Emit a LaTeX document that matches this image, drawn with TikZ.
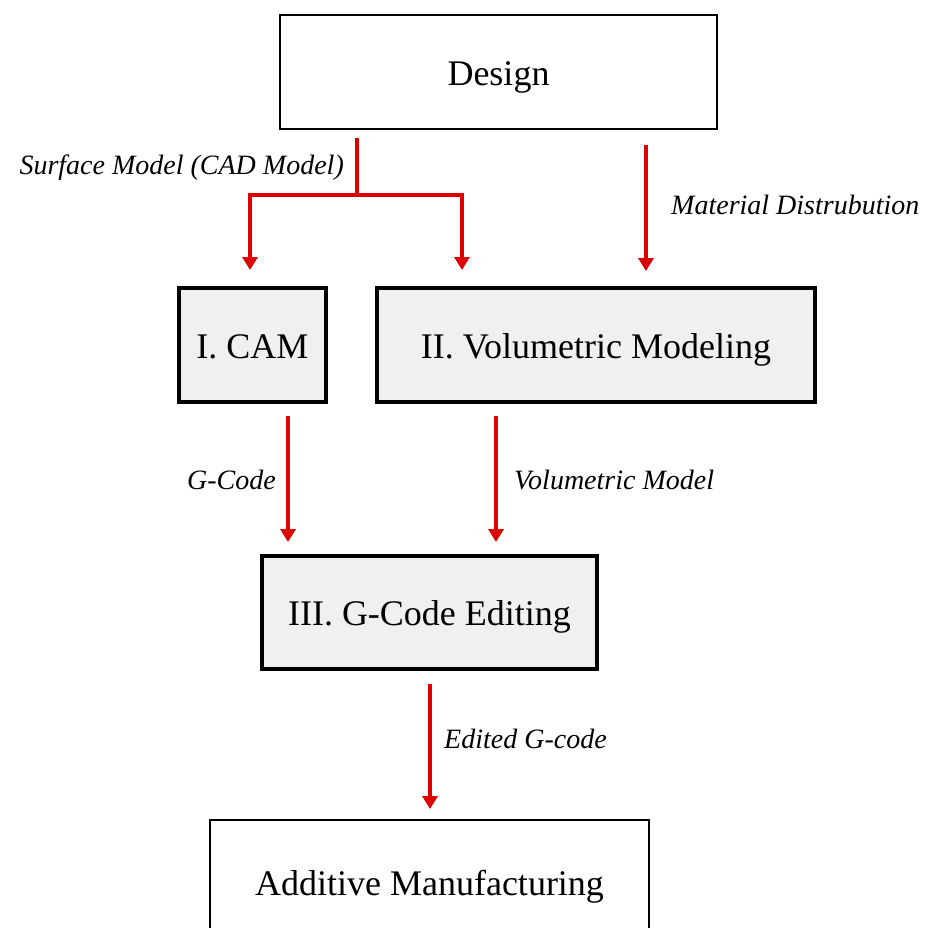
\documentclass[tikz,border=0pt]{standalone}
\usepackage{fontspec}
\setmainfont{Liberation Serif}
\usetikzlibrary{arrows.meta,calc}
\definecolor{arrred}{RGB}{221,0,0}
\definecolor{boxgray}{RGB}{240,240,240}
\begin{document}
\begin{tikzpicture}[x=1pt,y=-1pt,
  thinbox/.style={draw=black,line width=1.5pt,fill=white,inner sep=0pt,text height=26pt,text depth=0pt,font=\fontsize{36}{40}\selectfont},
  thickbox/.style={draw=black,line width=4pt,fill=boxgray,inner sep=0pt,text height=26pt,text depth=0pt,font=\fontsize{36}{40}\selectfont},
  arr/.style={draw=arrred,line width=4pt,-{Triangle[width=15pt,length=13pt]}},
  lbl/.style={inner sep=0pt,font=\fontsize{28}{32}\selectfont\itshape}]
\clip (0,0) rectangle (928,927);
\fill[white] (0,0) rectangle (928,927);
\node[thinbox,minimum width=437pt,minimum height=114pt] (design) at (498.5,72) {Design};
\node[thickbox,minimum width=147pt,minimum height=114pt] (cam) at (252.5,345) {I. CAM};
\node[thickbox,minimum width=438pt,minimum height=114pt] (vol) at (596,345) {II. Volumetric Modeling};
\node[thickbox,minimum width=335pt,minimum height=113pt] (gce) at (429.5,612.5) {III. G-Code Editing};
\node[thinbox,minimum width=439pt,minimum height=124pt] (am) at (429.5,882) {Additive Manufacturing};
% connector coordinates
\coordinate (s0) at (357,138);
\coordinate (sj) at (357,195);
\coordinate (s1) at (250,270);
\coordinate (s2) at (462,270);
\coordinate (m0) at (646,145);
\coordinate (m1) at (646,271);
\coordinate (g0) at (288,416);
\coordinate (g1) at (288,542);
\coordinate (v0) at (496,416);
\coordinate (v1) at (496,542);
\coordinate (e0) at (430,684);
\coordinate (e1) at (430,809);
\draw[draw=arrred,line width=4pt] (s0) -- (sj);
\draw[arr] (sj) -| (s1);
\draw[arr] (sj) -| (s2);
\draw[arr] (m0) -- (m1);
\draw[arr] (g0) -- (g1);
\draw[arr] (v0) -- (v1);
\draw[arr] (e0) -- (e1);
\node[lbl,anchor=east] (lsurf) at (344,168) {Surface Model (CAD Model)};
\node[lbl,anchor=west] (lmat) at (671,205) {Material Distrubution};
\node[lbl,anchor=east] (lg) at (276,480) {G-Code};
\node[lbl,anchor=west] (lv) at (514,480) {Volumetric Model};
\node[lbl,anchor=west] (le) at (444,739) {Edited G-code};
\end{tikzpicture}
\end{document}
